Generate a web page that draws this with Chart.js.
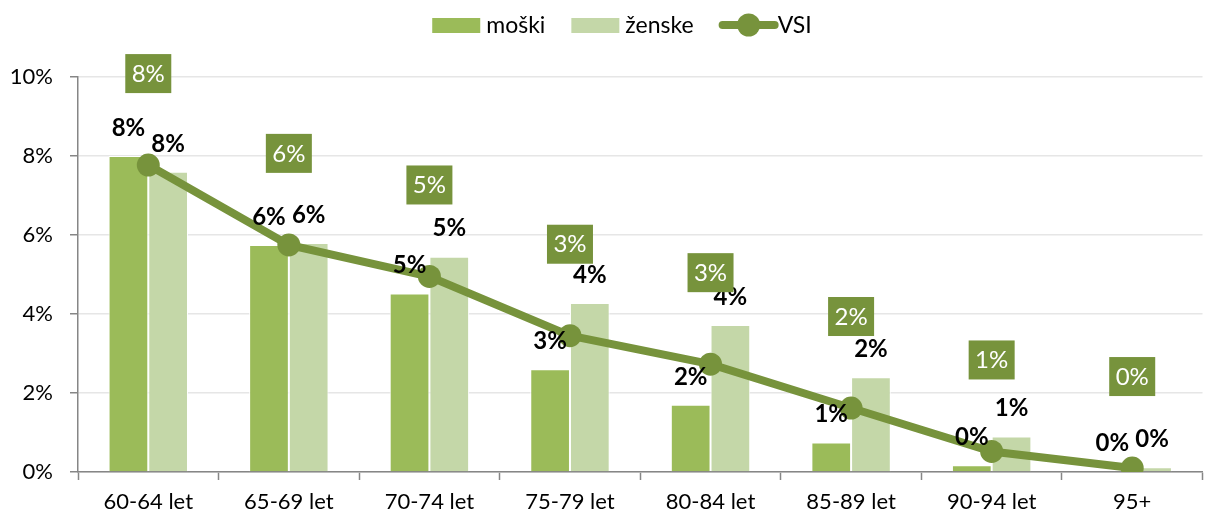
<!DOCTYPE html>
<html lang="sl">
<head>
  <meta charset="UTF-8">
  <title>Starostna struktura</title>
  <script src="https://cdn.jsdelivr.net/npm/chart.js"></script>
  <style>
    html, body { margin: 0; padding: 0; background: #fff; overflow: hidden; }
    #wrap { width: 1214px; height: 515px; }
  </style>
</head>
<body>
  <div id="wrap"><canvas id="chart" width="1214" height="515"></canvas></div>

  <script>
    const categories = ['60-64 let', '65-69 let', '70-74 let', '75-79 let', '80-84 let', '85-89 let', '90-94 let', '95+'];
    const moski  = [8.0, 5.75, 4.52, 2.6, 1.7, 0.75, 0.17, 0.02];
    const zenske = [7.6, 5.8, 5.45, 4.28, 3.72, 2.4, 0.9, 0.12];
    const vsi    = [7.77, 5.75, 4.95, 3.45, 2.73, 1.62, 0.52, 0.1];
    const yTicks = [0, 2, 4, 6, 8, 10];

    const FONT = 'Lato, "Noto Sans", sans-serif';
    const GREEN = '#9bbb59';
    const LIGHT = '#c4d7a8';
    const DARK = '#77933c';

    const pct = v => Math.round(v) + '%';

    // napisi nad stolpci in okvirčki nad črto
    const labelPlugin = {
      id: 'labels',
      afterDatasetsDraw(chart) {
        const ctx = chart.ctx;
        ctx.save();
        ctx.textAlign = 'center';
        ctx.textBaseline = 'middle';
        [0, 1].forEach(di => {
          const meta = chart.getDatasetMeta(di);
          const values = chart.data.datasets[di].data;
          ctx.font = 'bold 24px ' + FONT;
          ctx.fillStyle = '#000';
          meta.data.forEach((bar, i) => {
            ctx.fillText(pct(values[i]), bar.x, bar.y - 28);
          });
        });
        const lineMeta = chart.getDatasetMeta(2);
        ctx.font = '24px ' + FONT;
        lineMeta.data.forEach((pt, i) => {
          const cy = pt.y - 92;
          ctx.fillStyle = DARK;
          ctx.fillRect(pt.x - 23, cy - 19, 46, 39);
          ctx.fillStyle = '#fff';
          ctx.fillText(pct(vsi[i]), pt.x, cy + 1);
        });
        ctx.restore();
      },
      afterDraw(chart) {
        // legenda
        const ctx = chart.ctx;
        ctx.save();
        ctx.font = '23px ' + FONT;
        ctx.textBaseline = 'middle';
        const items = [
          { text: 'moški', kind: 'box', color: GREEN },
          { text: 'ženske', kind: 'box', color: LIGHT },
          { text: 'VSI', kind: 'line', color: DARK }
        ];
        const sw = { box: 48, line: 58 };
        const gapText = { box: 6, line: 0 };
        const gapItem = 26;
        let total = 0;
        items.forEach((it, i) => {
          it.w = sw[it.kind] + gapText[it.kind] + ctx.measureText(it.text).width;
          total += it.w + (i ? gapItem : 0);
        });
        let x = 622 - total / 2;
        const y = 25;
        items.forEach(it => {
          if (it.kind === 'box') {
            ctx.fillStyle = it.color;
            ctx.fillRect(x, y - 7, sw.box, 15);
          } else {
            ctx.strokeStyle = it.color;
            ctx.lineWidth = 8;
            ctx.lineCap = 'round';
            ctx.beginPath();
            ctx.moveTo(x + 3, y);
            ctx.lineTo(x + sw.line - 3, y);
            ctx.stroke();
            ctx.fillStyle = it.color;
            ctx.beginPath();
            ctx.arc(x + sw.line / 2, y, 11.5, 0, Math.PI * 2);
            ctx.fill();
          }
          ctx.fillStyle = '#000';
          ctx.fillText(it.text, x + sw[it.kind] + gapText[it.kind], y + 1);
          x += it.w + gapItem;
        });
        ctx.restore();
      }
    };

    new Chart(document.getElementById('chart'), {
      data: {
        labels: categories,
        datasets: [
          {
            type: 'bar', label: 'moški', data: moski, order: 1,
            backgroundColor: GREEN, borderColor: '#fff', borderWidth: 1,
            barPercentage: 1, categoryPercentage: 0.565
          },
          {
            type: 'bar', label: 'ženske', data: zenske, order: 1,
            backgroundColor: LIGHT, borderColor: '#fff', borderWidth: 1,
            barPercentage: 1, categoryPercentage: 0.565
          },
          {
            type: 'line', label: 'VSI', data: vsi, order: 0,
            borderColor: DARK, backgroundColor: DARK, borderWidth: 8,
            pointRadius: 11.5, pointBackgroundColor: DARK, pointBorderWidth: 0,
            tension: 0
          }
        ]
      },
      options: {
        responsive: false,
        animation: false,
        layout: { padding: { top: 77, left: 0, right: 0, bottom: 0 } },
        plugins: {
          legend: { display: false },
          tooltip: { enabled: false }
        },
        scales: {
          x: {
            offset: true,
            grid: {
              offset: true, drawOnChartArea: false, tickLength: 8,
              tickColor: '#868686', tickWidth: 1.5
            },
            border: { color: '#868686', width: 1.5 },
            ticks: { color: '#000', padding: 9, font: { family: FONT, size: 22 } },
            afterFit(s) { s.height = 43; }
          },
          y: {
            min: 0, max: 10,
            afterBuildTicks(s) { s.ticks = yTicks.map(v => ({ value: v })); },
            grid: { color: '#e6e6e6', lineWidth: 1.5, tickLength: 8, tickColor: '#868686' },
            border: { color: '#868686', width: 1.5 },
            ticks: {
              color: '#000', padding: 17, font: { family: FONT, size: 22 },
              callback: v => v + '%'
            },
            afterFit(s) { s.width = 78; }
          }
        }
      },
      plugins: [labelPlugin]
    });
  </script>
</body>
</html>
